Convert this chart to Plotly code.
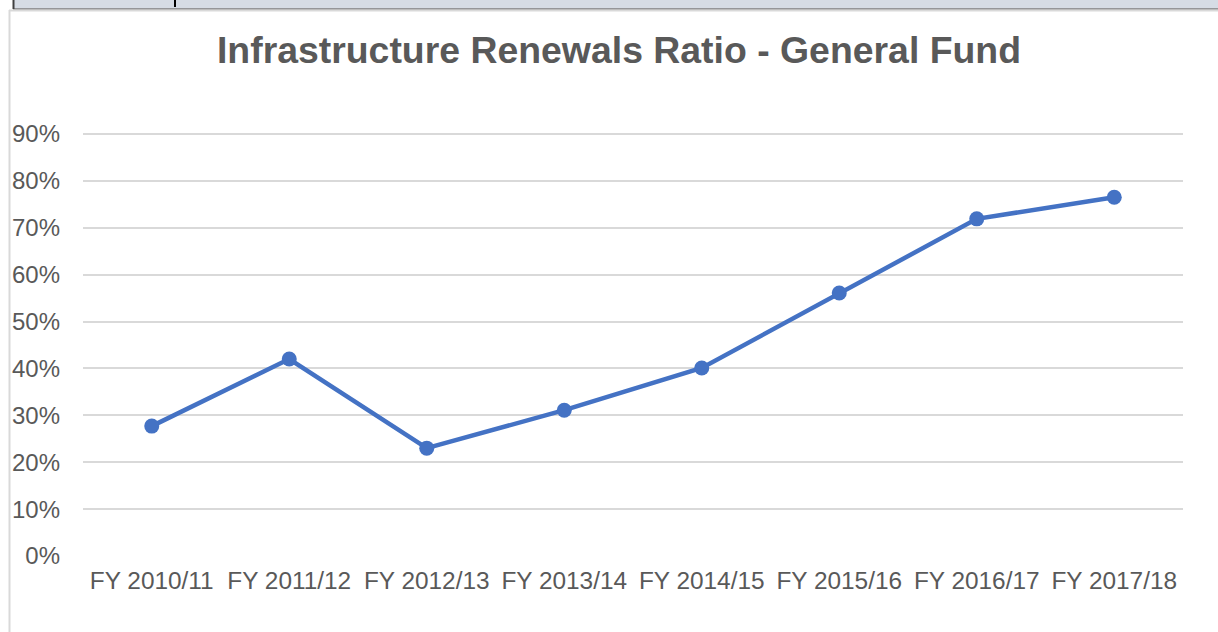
import plotly.graph_objects as go

categories = ["FY 2010/11", "FY 2011/12", "FY 2012/13", "FY 2013/14",
              "FY 2014/15", "FY 2015/16", "FY 2016/17", "FY 2017/18"]
ratio = [0.277, 0.420, 0.230, 0.311, 0.401, 0.561, 0.719, 0.765]
y_ticks = [0, 0.1, 0.2, 0.3, 0.4, 0.5, 0.6, 0.7, 0.8, 0.9]
y_tick_labels = ["0%", "10%", "20%", "30%", "40%", "50%", "60%", "70%", "80%", "90%"]

W, H = 1218, 632
L, R, T, B = 83, 35, 128, 76
PW, PH = W - L - R, H - T - B
Y_TOP = 0.9 * PH / 422.0


def px(x):
    return (x - L) / PW


def py(y):
    return (H - B - y) / PH


fig = go.Figure()
fig.add_trace(go.Scatter(
    x=categories, y=ratio, mode="lines+markers",
    line=dict(color="#4472C4", width=4.5),
    marker=dict(color="#4472C4", size=15),
    showlegend=False, hoverinfo="x+y",
))

shapes = [
    # spreadsheet strip at top
    dict(type="rect", xref="paper", yref="paper", x0=px(13), x1=px(W + 5), y0=py(9), y1=py(-5),
         fillcolor="#D6DCE5", line=dict(width=0), layer="above"),
    dict(type="line", xref="paper", yref="paper", x0=px(13), x1=px(W + 5), y0=py(9), y1=py(9),
         line=dict(color="#7F7F7F", width=1.5), layer="above"),
    dict(type="line", xref="paper", yref="paper", x0=px(13.5), x1=px(13.5), y0=py(0), y1=py(9),
         line=dict(color="#404040", width=2), layer="above"),
    dict(type="line", xref="paper", yref="paper", x0=px(175), x1=px(175), y0=py(0), y1=py(7),
         line=dict(color="#000000", width=2), layer="above"),
    # chart border
    dict(type="line", xref="paper", yref="paper", x0=px(9), x1=px(W + 5), y0=py(10.5), y1=py(10.5),
         line=dict(color="#D9D9D9", width=2), layer="above"),
    dict(type="line", xref="paper", yref="paper", x0=px(9.5), x1=px(9.5), y0=py(10), y1=py(H + 5),
         line=dict(color="#D9D9D9", width=2), layer="above"),
]

fig.update_layout(
    width=W, height=H,
    margin=dict(l=L, r=R, t=T, b=B),
    paper_bgcolor="white", plot_bgcolor="white",
    font=dict(family="Liberation Sans, Arial, sans-serif", color="#595959"),
    title=dict(text="<b>Infrastructure Renewals Ratio - General Fund</b>",
               font=dict(size=37.4, color="#595959"),
               x=px(619), xref="paper", xanchor="center",
               y=1 - 50 / H, yref="container", yanchor="middle"),
    xaxis=dict(showgrid=False, showline=False, zeroline=False,
               tickfont=dict(size=24.4, color="#595959"),
               ticklabelstandoff=8, range=[-0.5, 7.5]),
    yaxis=dict(range=[0, Y_TOP], tickvals=y_ticks, ticktext=y_tick_labels,
               showgrid=True, gridcolor="#D9D9D9", gridwidth=1.5,
               zeroline=False, showline=False,
               tickfont=dict(size=24, color="#595959"),
               ticklabelstandoff=22),
    shapes=shapes,
)

fig.write_html("out.html",
               config={"displayModeBar": False},
               post_script="document.body.style.margin='0';document.body.style.overflow='hidden';")
